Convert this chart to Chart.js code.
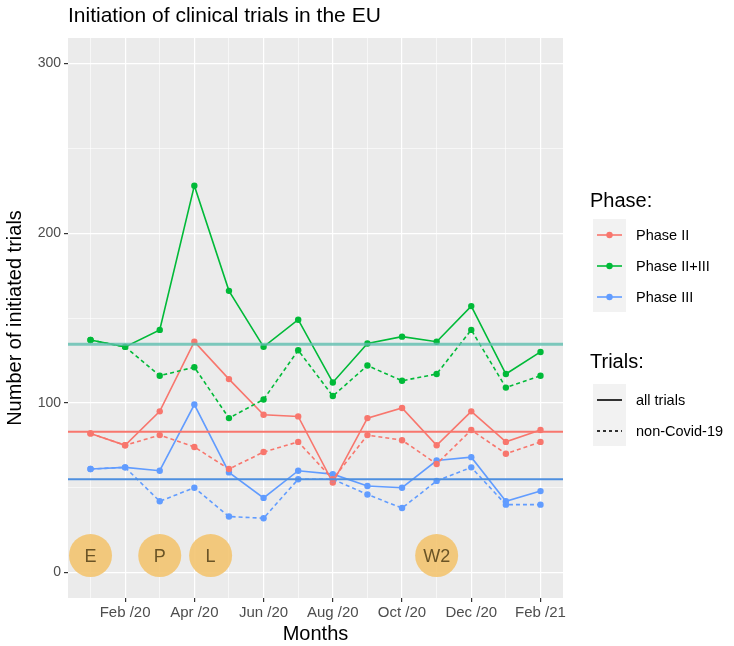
<!DOCTYPE html>
<html>
<head>
<meta charset="utf-8">
<script src="https://cdn.jsdelivr.net/npm/chart.js@4"></script>
<style>
  html, body { margin: 0; padding: 0; background: #fff; }
  #wrap { width: 734px; height: 646px; }
</style>
</head>
<body>
<div id="wrap"><canvas id="chart" width="734" height="646"></canvas></div>
<script>
// months Jan /20 .. Feb /21
const months = ['Jan /20', 'Feb /20', 'Mar /20', 'Apr /20', 'May /20', 'Jun /20', 'Jul /20',
  'Aug /20', 'Sep /20', 'Oct /20', 'Nov /20', 'Dec /20', 'Jan /21', 'Feb /21'];

// all trials
const phase2All   = [82, 75, 95, 136, 114, 93, 92, 53, 91, 97, 75, 95, 77, 84];
const phase23All  = [137, 133, 143, 228, 166, 133, 149, 112, 135, 139, 136, 157, 117, 130];
const phase3All   = [61, 62, 60, 99, 59, 44, 60, 58, 51, 50, 66, 68, 42, 48];
// non-Covid-19 trials
const phase2Non   = [82, 75, 81, 74, 61, 71, 77, 55, 81, 78, 64, 84, 70, 77];
const phase23Non  = [137, 133, 116, 121, 91, 102, 131, 104, 122, 113, 117, 143, 109, 116];
const phase3Non   = [61, 62, 42, 50, 33, 32, 55, 55, 46, 38, 54, 62, 40, 40];

// reference levels
const refPhase2 = 83;
const refPhase23 = 134.5;
const refPhase3 = 55;

// event markers
const eventLabels = ['E', 'P', 'L', 'W2'];
const eventX = [0, 2, 3.47, 10];
const eventY = [10, 10, 10, 10];

const yTicks = [0, 50, 100, 150, 200, 250, 300];

const RED = '#F8766D', GREEN = '#00BA38', BLUE = '#619CFF';
const X_MIN = -0.65, X_MAX = 13.65;
const FONT = '"Liberation Sans", Arial, sans-serif';

const pts = arr => arr.map((v, i) => ({ x: i, y: v }));
const hline = v => [{ x: X_MIN, y: v }, { x: X_MAX, y: v }];

function series(data, color, dashed) {
  return {
    data: pts(data),
    borderColor: color,
    backgroundColor: color,
    borderWidth: 1.6,
    borderDash: dashed ? [4, 3] : [],
    pointRadius: 3.2,
    pointHoverRadius: 3.2,
    pointBorderWidth: 0,
    tension: 0
  };
}

function refLine(v, color, width) {
  return {
    data: hline(v),
    borderColor: color,
    borderWidth: width,
    pointRadius: 0,
    tension: 0
  };
}

const panelBg = {
  id: 'panelBg',
  beforeDraw(chart) {
    const { ctx, chartArea: a } = chart;
    ctx.save();
    ctx.fillStyle = '#fff';
    ctx.fillRect(0, 0, chart.width, chart.height);
    ctx.fillStyle = '#EBEBEB';
    ctx.fillRect(a.left, a.top, a.right - a.left, a.bottom - a.top);
    ctx.restore();
  }
};

const extras = {
  id: 'extras',
  afterDatasetsDraw(chart) {
    const ctx = chart.ctx;
    // event labels
    const meta = chart.getDatasetMeta(chart.data.datasets.length - 1);
    ctx.save();
    ctx.fillStyle = '#6A5426';
    ctx.font = '18px ' + FONT;
    ctx.textAlign = 'center';
    ctx.textBaseline = 'middle';
    meta.data.forEach((el, i) => ctx.fillText(eventLabels[i], el.x, el.y + 1));
    ctx.restore();
  },
  afterDraw(chart) {
    const ctx = chart.ctx;
    ctx.save();
    // title
    ctx.fillStyle = '#000';
    ctx.font = '21px ' + FONT;
    ctx.textBaseline = 'middle';
    ctx.fillText('Initiation of clinical trials in the EU', 68, 16);

    // legend: Phase
    const lx = 590;
    ctx.font = '20px ' + FONT;
    ctx.fillText('Phase:', lx, 201);
    ctx.fillStyle = '#F2F2F2';
    ctx.fillRect(lx + 3, 219, 33, 93);
    const phases = [['Phase II', RED], ['Phase II+III', GREEN], ['Phase III', BLUE]];
    ctx.font = '14.5px ' + FONT;
    phases.forEach(([name, col], i) => {
      const y = 235 + i * 31;
      ctx.strokeStyle = col;
      ctx.lineWidth = 1.6;
      ctx.beginPath(); ctx.moveTo(lx + 7, y); ctx.lineTo(lx + 32, y); ctx.stroke();
      ctx.fillStyle = col;
      ctx.beginPath(); ctx.arc(lx + 19.5, y, 3.2, 0, Math.PI * 2); ctx.fill();
      ctx.fillStyle = '#000';
      ctx.fillText(name, lx + 46, y + 1);
    });

    // legend: Trials
    ctx.font = '20px ' + FONT;
    ctx.fillText('Trials:', lx, 362);
    ctx.fillStyle = '#F2F2F2';
    ctx.fillRect(lx + 3, 384, 33, 62);
    ctx.font = '14.5px ' + FONT;
    [['all trials', []], ['non-Covid-19', [3, 3]]].forEach(([name, dash], i) => {
      const y = 400 + i * 31;
      ctx.strokeStyle = '#000';
      ctx.lineWidth = 1.6;
      ctx.setLineDash(dash);
      ctx.beginPath(); ctx.moveTo(lx + 7, y); ctx.lineTo(lx + 32, y); ctx.stroke();
      ctx.setLineDash([]);
      ctx.fillStyle = '#000';
      ctx.fillText(name, lx + 46, y + 1);
    });
    ctx.restore();
  }
};

new Chart(document.getElementById('chart').getContext('2d'), {
  type: 'line',
  data: {
    datasets: [
      refLine(refPhase23, 'rgba(95,190,175,0.8)', 3),
      refLine(refPhase2, RED, 2),
      refLine(refPhase3, '#4E8FDF', 2),
      series(phase2Non, RED, true),
      series(phase23Non, GREEN, true),
      series(phase3Non, BLUE, true),
      series(phase2All, RED, false),
      series(phase23All, GREEN, false),
      series(phase3All, BLUE, false),
      {
        data: eventX.map((x, i) => ({ x: x, y: eventY[i] })),
        showLine: false,
        pointRadius: 21.5,
        pointHoverRadius: 21.5,
        pointBorderWidth: 0,
        backgroundColor: 'rgba(243,196,112,0.9)'
      }
    ]
  },
  options: {
    responsive: false,
    animation: false,
    events: [],
    layout: { padding: { top: 38, right: 171, bottom: 0, left: 0 } },
    plugins: { legend: { display: false }, tooltip: { enabled: false } },
    scales: {
      x: {
        type: 'linear',
        min: X_MIN,
        max: X_MAX,
        afterBuildTicks: s => { s.ticks = months.map((m, i) => ({ value: i })); },
        afterFit: s => { s.height = 48; },
        border: { display: false },
        grid: {
          color: '#fff',
          lineWidth: c => (c.tick && c.tick.value % 2 === 1) ? 1.2 : 0.6,
          tickColor: c => (c.tick && c.tick.value % 2 === 1) ? '#333' : 'rgba(0,0,0,0)',
          tickLength: 4
        },
        ticks: {
          autoSkip: false,
          maxRotation: 0,
          padding: 2,
          color: '#4D4D4D',
          font: { size: 15, family: FONT },
          callback: v => (v % 2 === 1) ? months[v] : ''
        },
        title: {
          display: true,
          text: 'Months',
          color: '#000',
          padding: { top: 0, bottom: 0 },
          font: { size: 20, family: FONT }
        }
      },
      y: {
        min: -15,
        max: 315,
        afterBuildTicks: s => { s.ticks = yTicks.map(v => ({ value: v })); },
        afterFit: s => { s.width = 68; },
        border: { display: false },
        grid: {
          color: '#fff',
          lineWidth: c => (c.tick && c.tick.value % 100 === 0) ? 1.2 : 0.6,
          tickColor: c => (c.tick && c.tick.value % 100 === 0) ? '#333' : 'rgba(0,0,0,0)',
          tickLength: 4
        },
        ticks: {
          padding: 3,
          color: '#4D4D4D',
          font: { size: 14, family: FONT },
          callback: v => (v % 100 === 0) ? String(v) : ''
        },
        title: {
          display: true,
          text: 'Number of initiated trials',
          color: '#000',
          padding: { top: 3, bottom: 0 },
          font: { size: 20, family: FONT }
        }
      }
    }
  },
  plugins: [panelBg, extras]
});
</script>
</body>
</html>
